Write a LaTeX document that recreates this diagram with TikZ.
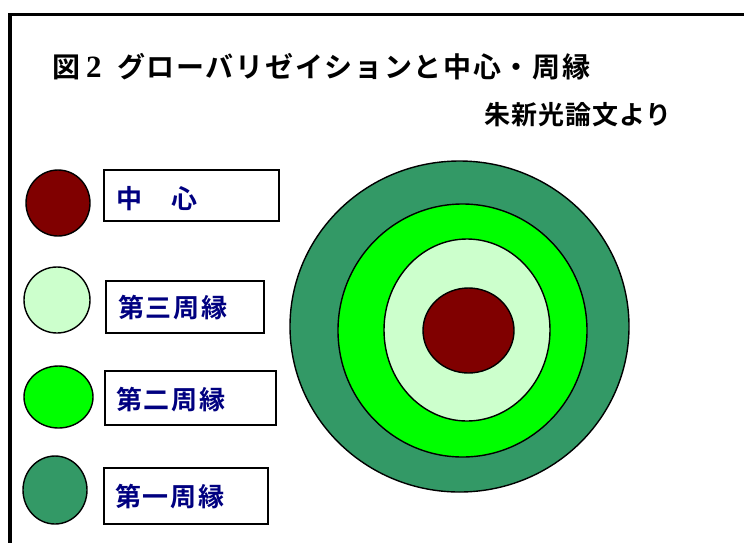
\documentclass[tikz,border=0pt]{standalone}
\usepackage{fontspec}
\setmainfont{Liberation Serif}
\newfontfamily\jpfont{Noto Sans CJK JP Bold}
\usetikzlibrary{shapes.geometric}
\definecolor{cDarkRed}{HTML}{800000}
\definecolor{cLight}{HTML}{CCFFCC}
\definecolor{cLime}{HTML}{00FF00}
\definecolor{cSea}{HTML}{339966}
\definecolor{cNavy}{HTML}{000080}
\tikzset{
  disc/.style={ellipse, draw=black, line width=1.4pt, inner sep=0pt},
  labelbox/.style={rectangle, draw=black, line width=1.8pt, inner sep=0pt},
  labeltext/.style={anchor=base west, inner sep=0pt, text=cNavy, font=\jpfont\fontsize{26}{30}\selectfont\addfontfeature{LetterSpace=7}},
}
\begin{document}
\begin{tikzpicture}[x=1pt,y=-1pt]
\useasboundingbox (0,0) rectangle (744,542);
\fill[white] (0,0) rectangle (744,542);
% frame
\coordinate (fbl) at (10,548);
\coordinate (ftl) at (10,14.3);
\coordinate (ftr) at (750,14.3);
\draw[line width=3.4pt] (fbl) -- (ftl) -- (ftr);
% title
\node[anchor=base west, inner sep=0pt] (title) at (52,77)
  {\fontsize{28}{32}\selectfont\makebox[34pt][l]{\jpfont 図}\makebox[31pt][l]{\bfseries\fontsize{31}{34}\selectfont 2}{\jpfont\addfontfeature{LetterSpace=6}グローバリゼイションと中心・周縁}};
\node[anchor=base west, inner sep=0pt] (source) at (484,124)
  {\jpfont\fontsize{26}{30}\selectfont\addfontfeature{LetterSpace=4}朱新光論文より};
% concentric rings
\node[disc, fill=cSea, minimum width=339pt, minimum height=331pt] (ring1) at (459.5,326.5) {};
\node[disc, fill=cLime, minimum width=249pt, minimum height=253pt] (ring2) at (462.5,330.5) {};
\node[disc, fill=cLight, minimum width=166pt, minimum height=182pt] (ring3) at (467,330) {};
\node[disc, fill=cDarkRed, minimum width=91pt, minimum height=85pt] (core) at (468.5,330.5) {};
% legend circles
\node[disc, fill=cDarkRed, minimum width=64pt, minimum height=66pt] (l1) at (58,203) {};
\node[disc, fill=cLight, minimum width=66pt, minimum height=66pt] (l2) at (57,300) {};
\node[disc, fill=cLime, minimum width=69pt, minimum height=62pt] (l3) at (58.5,397) {};
\node[disc, fill=cSea, minimum width=64pt, minimum height=68pt] (l4) at (55,490) {};
% legend boxes
\node[labelbox, minimum width=175pt, minimum height=51pt] (b1) at (191.5,195.5) {};
\node[labelbox, minimum width=158pt, minimum height=52pt] (b2) at (185,307) {};
\node[labelbox, minimum width=171pt, minimum height=54pt] (b3) at (190.5,398) {};
\node[labelbox, minimum width=164pt, minimum height=56pt] (b4) at (186,496) {};
% legend texts
\node[labeltext] (t1) at (116,208) {中　心};
\node[labeltext] (t2) at (118,317) {第三周縁};
\node[labeltext] (t3) at (116,409) {第二周縁};
\node[labeltext] (t4) at (115,506) {第一周縁};
\end{tikzpicture}
\end{document}
